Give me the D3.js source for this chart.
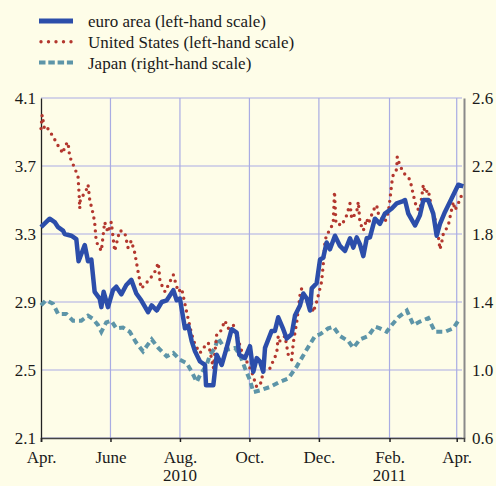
<!DOCTYPE html>
<html><head><meta charset="utf-8">
<script src="https://cdn.jsdelivr.net/npm/d3@7"></script>
<style>
html,body{margin:0;padding:0;background:#FEFDE8;}
svg{display:block;}
text{font-family:"Liberation Serif","Times New Roman",serif;fill:#1a1a1a;}
</style></head>
<body><svg id="c" width="496" height="486"></svg>
<script>
// days since 1 April 2010
const euroDays = [0,7.6,12,15,19.3,20.8,26.6,31,33,38.4,41.3,44.2,47.1,51.5,53,55,58.8,63.2,66.1,70.5,74.9,79.3,83.7,88,94,97.2,101.6,106,110.4,116.2,119.1,122,126.4,129.3,132.3,135.2,139.6,144,144.9,151.3,154.3,158.7,163,167.4,171.8,174.1,179.1,183.5,186.4,189.4,192.3,195.2,196.7,202.5,205.4,208.3,212.7,215.7,220.1,223,227.4,230.3,233.3,236.2,237.7,242,245,247.8,250.8,253.7,258.1,262.5,266.9,271.3,274.2,277.2,280,283,286,288.8,293.2,297.6,302,308,312.3,316.7,319.6,322.5,328.4,332.7,335.7,340,344.4,347.4,350.3,354.7,359.1,363.5,366.4,370.8];
const euroValues = [3.34,3.39,3.37,3.34,3.32,3.30,3.29,3.27,3.14,3.235,3.14,3.15,2.96,2.92,2.87,2.96,2.87,2.97,2.99,2.945,3.0,3.03,2.95,2.91,2.84,2.88,2.85,2.90,2.91,2.97,2.91,2.92,2.745,2.76,2.67,2.61,2.55,2.53,2.41,2.41,2.59,2.53,2.63,2.74,2.72,2.59,2.57,2.64,2.49,2.57,2.55,2.49,2.63,2.73,2.73,2.81,2.74,2.685,2.71,2.82,2.88,2.95,2.92,2.85,2.98,3.01,3.15,3.16,3.25,3.21,3.29,3.23,3.20,3.275,3.22,3.28,3.24,3.17,3.275,3.28,3.39,3.36,3.42,3.45,3.48,3.49,3.50,3.42,3.35,3.41,3.50,3.50,3.42,3.29,3.36,3.43,3.49,3.55,3.59,3.58];

const usDays = [0,1,2,3,5,9,13.4,15.8,19.3,21,23.7,25.2,28.1,32.5,33.5,34,34.5,39.8,41.3,42.8,45.7,47.1,48.5,53,55.9,58.8,61.7,64.7,69.1,73.5,76.4,79.3,82.3,85.2,88,91,97.2,100.1,103,104.5,108.9,111.8,116.2,120.5,123.5,127.9,132.3,135.2,139.6,142.5,146.9,149.9,151.3,154.3,157.2,161.5,164.4,168.8,171.8,176.2,180.6,185,186.4,189.4,193.8,195.2,201,207,208.3,209.8,214.2,217.1,220.1,221.5,224.5,227.4,228.9,231.8,236.2,239,242,243.5,246.4,247.8,249.3,250.8,253.7,256.6,257.7,259,261,264,268.4,271.3,272.8,277.2,278.6,280,283,286,287.4,291.8,294.7,296.2,299.1,302,305,306.5,308,309.3,312.3,312.8,315.2,319.6,324,326.9,329.9,332.7,335.7,337.2,340,343,345.9,348.8,350.3,351.8,353.2,357.6,362,363.5,366.4,369.4];
const usValues = [3.92,4.00,3.96,3.92,3.93,3.89,3.84,3.81,3.775,3.82,3.84,3.755,3.71,3.64,3.53,3.45,3.50,3.56,3.59,3.50,3.42,3.37,3.255,3.20,3.37,3.31,3.37,3.20,3.32,3.31,3.22,3.26,3.19,3.08,2.98,3.00,3.05,3.08,3.13,3.02,2.96,3.00,3.06,2.96,2.98,2.84,2.71,2.65,2.60,2.63,2.66,2.56,2.51,2.71,2.72,2.79,2.745,2.765,2.71,2.61,2.55,2.49,2.46,2.40,2.43,2.53,2.51,2.60,2.70,2.67,2.70,2.59,2.56,2.66,2.78,2.94,2.98,2.92,2.94,2.84,2.90,2.94,3.02,3.12,3.25,3.30,3.32,3.37,3.55,3.36,3.36,3.35,3.41,3.48,3.39,3.43,3.49,3.37,3.32,3.39,3.36,3.44,3.47,3.42,3.39,3.37,3.43,3.51,3.60,3.65,3.68,3.755,3.70,3.65,3.62,3.53,3.45,3.44,3.59,3.54,3.56,3.45,3.39,3.29,3.21,3.25,3.30,3.35,3.49,3.44,3.48,3.53];

const jpDays = [0,4.4,10.5,15,22.2,28.1,35.4,41.3,45.7,50,53,57.3,61.7,66.1,72,77.9,83.7,89.6,92.8,97.2,103,110.4,116.2,122,127.9,132.3,136.7,139.6,145.5,148.4,152.8,155.4,159,164.2,170.3,174.7,179.1,183.5,186.4,192.3,201,209.8,217.1,224.5,233.3,240.6,245,252.2,256.6,262.5,269.8,274.2,280,287.4,293.2,297.6,303.5,308,313.8,321.2,327,332.7,340,345.9,354.7,362,366.4];
const jpValues = [1.38,1.41,1.39,1.33,1.33,1.29,1.29,1.32,1.30,1.265,1.225,1.28,1.29,1.245,1.25,1.225,1.16,1.11,1.14,1.18,1.13,1.08,1.10,1.06,1.04,0.99,0.93,0.97,1.03,1.09,1.13,1.19,1.15,1.12,1.13,1.09,1.01,0.94,0.87,0.88,0.90,0.93,0.95,1.02,1.12,1.20,1.21,1.245,1.255,1.20,1.17,1.13,1.18,1.20,1.255,1.245,1.225,1.265,1.31,1.35,1.265,1.285,1.305,1.225,1.225,1.245,1.29];

const leftTicks = [2.1,2.5,2.9,3.3,3.7,4.1];
const rightTicks = [0.6,1.0,1.4,1.8,2.2,2.6];
const monthTicks = ["2010-04-01","2010-06-01","2010-08-01","2010-10-01","2010-12-01","2011-02-01","2011-04-01"];
const monthLabels = ["Apr.","June","Aug.","Oct.","Dec.","Feb.","Apr."];
const yearLabels = [{at:"2010-08-01",label:"2010"},{at:"2011-02-01",label:"2011"}];
const seriesNames = ["euro area (left-hand scale)","United States (left-hand scale)","Japan (right-hand scale)"];

const FONT = "'Liberation Serif','Times New Roman',serif";
const svg = d3.select("#c");
const W=496,H=486;
svg.append("rect").attr("width",W).attr("height",H).attr("fill","#FEFDE8");

const L=41,R=464,T=98,B=438;
const start = new Date(Date.UTC(2010,3,1));
const dayToDate = d => new Date(start.getTime()+d*86400000);
const x = d3.scaleUtc().domain([start, dayToDate(371.4)]).range([L,R]);
const yL = d3.scaleLinear().domain([2.1,4.1]).range([B,T]);
const yR = d3.scaleLinear().domain([0.6,2.6]).range([B,T]);
const parse = d3.utcParse("%Y-%m-%d");
const mDates = monthTicks.map(parse);

// grid
const grid = svg.append("g");
grid.selectAll("line.h").data(leftTicks).join("line")
  .attr("x1",L).attr("x2",R-2).attr("y1",d=>yL(d)).attr("y2",d=>yL(d))
  .attr("stroke","#A9ACE3").attr("stroke-width",1.2);
grid.selectAll("line.v").data(mDates.slice(1)).join("line")
  .attr("x1",d=>x(d)).attr("x2",d=>x(d)).attr("y1",T).attr("y2",B)
  .attr("stroke","#A9ACE3").attr("stroke-width",1.2);

const styleText = sel => sel.style("font-size","17px").style("font-family",FONT).attr("fill","#1a1a1a");

// axes
const gl = svg.append("g").attr("transform",`translate(${L},0)`)
  .call(d3.axisLeft(yL).tickValues(leftTicks).tickSize(0).tickPadding(5).tickFormat(d3.format(".1f")));
gl.select(".domain").attr("stroke","#222").attr("stroke-width",1.3);
styleText(gl.selectAll("text"));

const gr = svg.append("g").attr("transform",`translate(${R},0)`)
  .call(d3.axisRight(yR).tickValues(rightTicks).tickSize(0).tickPadding(8).tickFormat(d3.format(".1f")));
gr.select(".domain").attr("stroke","#8a8a8a").attr("stroke-width",2);
styleText(gr.selectAll("text"));

const gb = svg.append("g").attr("transform",`translate(0,${B})`)
  .call(d3.axisBottom(x).tickValues(mDates).tickSize(4).tickPadding(9).tickFormat((d,i)=>monthLabels[i]));
gb.select(".domain").attr("stroke","#444").attr("stroke-width",1.6);
gb.selectAll(".tick line").attr("stroke","#222").attr("stroke-width",1.5);
styleText(gb.selectAll("text"));
styleText(svg.append("g").selectAll("text").data(yearLabels).join("text")
  .attr("x",d=>x(parse(d.at))).attr("y",481).attr("text-anchor","middle")
  .text(d=>d.label));

// series
const mk = (days, vals) => days.map((d,i)=>({date:dayToDate(d), v:vals[i]}));
const lineL = d3.line().x(d=>x(d.date)).y(d=>yL(d.v));
const lineR = d3.line().x(d=>x(d.date)).y(d=>yR(d.v));

svg.append("path").datum(mk(jpDays,jpValues)).attr("d",lineR)
  .attr("fill","none").attr("stroke","#5D95A8").attr("stroke-width",4).attr("stroke-dasharray","6 4");
svg.append("path").datum(mk(usDays,usValues)).attr("d",lineL)
  .attr("fill","none").attr("stroke","#B3372E").attr("stroke-width",3.4)
  .attr("stroke-linecap","round").attr("stroke-dasharray","0 6.5");
svg.append("path").datum(mk(euroDays,euroValues)).attr("d",lineL)
  .attr("fill","none").attr("stroke","#2C4EAA").attr("stroke-width",4.5).attr("stroke-linejoin","round");

// legend
const lg = svg.append("g");
const styles = [
  {stroke:"#2C4EAA",w:5,dash:null,cap:"butt"},
  {stroke:"#B3372E",w:3.4,dash:"0 7.5",cap:"round"},
  {stroke:"#5D95A8",w:4,dash:"6.5 2.8",cap:"butt"}
];
seriesNames.forEach((n,i)=>{
  const cy = 21 + i*20.8;
  const s = styles[i];
  const ln = lg.append("line").attr("x1",i===1?41:39).attr("x2",73).attr("y1",cy).attr("y2",cy)
    .attr("stroke",s.stroke).attr("stroke-width",s.w).attr("stroke-linecap",s.cap);
  if(s.dash) ln.attr("stroke-dasharray",s.dash);
  styleText(lg.append("text").attr("x",88).attr("y",cy+6).text(n));
});
</script></body></html>
